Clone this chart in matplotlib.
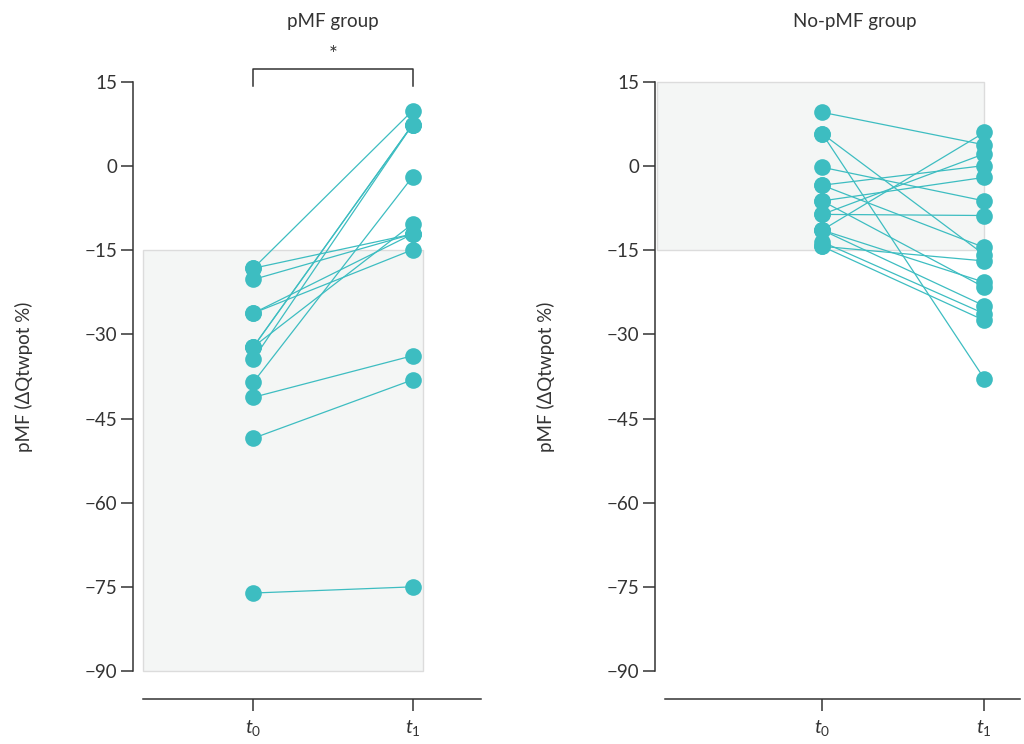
import matplotlib
matplotlib.use("Agg")
import matplotlib.pyplot as plt
from matplotlib.patches import Rectangle

plt.rcParams['font.family'] = ['Lato', 'DejaVu Sans']
plt.rcParams['mathtext.fontset'] = 'custom'
plt.rcParams['mathtext.it'] = 'Lato:italic'
plt.rcParams['mathtext.rm'] = 'Lato'

# values (pMF, delta Qtwpot %)
pmf_t0 = [-18.2, -18.2, -20.2, -26.2, -26.2, -32.2, -32.2, -34.4, -32.2, -38.5, -41.2, -48.5, -76.1]
pmf_t1 = [9.9, -12.1, -12.1, -12.1, -14.9, 7.4, 7.4, 7.4, -10.3, -1.9, -33.8, -38.1, -75.0]

nopmf_t0 = [9.6, 5.8, 5.8, -0.2, -3.4, -6.2, -8.6, -8.6, -11.4, -11.4,
            -3.4, -6.2, -11.4, -13.5, -14.3, -14.3]
nopmf_t1 = [3.8, -15.8, -37.9, -6.2, 0.1, -2.0, 2.2, -8.8, 6.0, -20.7,
            -14.5, -21.6, -24.9, -26.3, -16.9, -27.5]

time_labels = ['$t_0$', '$t_1$']
yticks = [15, 0, -15, -30, -45, -60, -75, -90]

teal = '#3dbdc1'
dark = '#333333'

fig = plt.figure(figsize=(10.24, 7.44), dpi=100)
ax1 = fig.add_axes([143/1024, 73/744, 338/1024, 589/744])
ax2 = fig.add_axes([665/1024, 73/744, 355/1024, 589/744])


def style(ax, xlim):
    ax.set_xlim(*xlim)
    ax.set_ylim(-90, 15)
    for s in ['top', 'right']:
        ax.spines[s].set_visible(False)
    ax.spines['left'].set_position(('outward', 7))
    ax.spines['bottom'].set_position(('outward', 20))
    for s in ['left', 'bottom']:
        ax.spines[s].set_color(dark)
        ax.spines[s].set_linewidth(1.1)
    ax.set_yticks(yticks)
    ax.set_yticklabels([str(v).replace('-', '\u2212') for v in yticks])
    ax.set_xticks([0, 1])
    ax.set_xticklabels(time_labels)
    ax.tick_params(axis='y', length=8.5, width=1.1, color=dark, labelsize=13.5,
                   labelcolor=dark, pad=3)
    ax.tick_params(axis='x', length=8.5, width=1.1, color=dark, labelsize=14,
                   labelcolor=dark, pad=5)
    ax.set_ylabel('pMF (\u0394Qtwpot %)', fontsize=13.5, color=dark, labelpad=37)
    ax.patch.set_visible(False)


def draw_pairs(ax, t0, t1):
    for a, b in zip(t0, t1):
        ax.plot([0, 1], [a, b], color=teal, lw=0.9, zorder=2, clip_on=False)
    ax.plot([0] * len(t0), t0, 'o', color=teal, ms=12, mec='none', zorder=3, clip_on=False)
    ax.plot([1] * len(t1), t1, 'o', color=teal, ms=12, mec='none', zorder=3, clip_on=False)


# left panel
style(ax1, (-0.694, 1.43))
ax1.add_patch(Rectangle((-0.694, -90), 1.757, 75, facecolor='#f4f6f5',
                        edgecolor='#dcdcdc', lw=1, zorder=0, clip_on=False))
draw_pairs(ax1, pmf_t0, pmf_t1)
ax1.text(0.5, 1.102, 'pMF group', transform=ax1.get_xaxis_transform(),
         ha='center', va='center', fontsize=13.5, color=dark)
ax1.plot([0, 0, 1, 1], [14.2, 17.3, 17.3, 14.2], color=dark, lw=1.1, clip_on=False)
ax1.text(0.5, 19.8, '*', ha='center', va='center', fontsize=15, color=dark)

# right panel
style(ax2, (-0.969, 1.22))
ax2.add_patch(Rectangle((-1.02, -15), 2.02, 30, facecolor='#f4f6f5',
                        edgecolor='#dcdcdc', lw=1, zorder=0, clip_on=False))
draw_pairs(ax2, nopmf_t0, nopmf_t1)
ax2.text(0.2, 1.102, 'No-pMF group', transform=ax2.get_xaxis_transform(),
         ha='center', va='center', fontsize=13.5, color=dark)

fig.savefig('out.png', dpi=100)
